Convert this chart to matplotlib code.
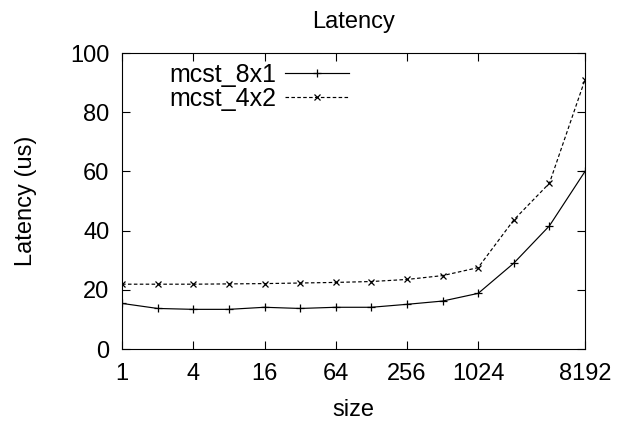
import numpy as np
import matplotlib
matplotlib.use('Agg')
import matplotlib.pyplot as plt

plt.rcParams['font.family'] = ['Liberation Sans', 'DejaVu Sans']

# message sizes (bytes) and measured latency (us)
sizes = [1, 2, 4, 8, 16, 32, 64, 128, 256, 512, 1024, 2048, 4096, 8192]
mcst_8x1 = [15.4, 13.7, 13.4, 13.4, 14.1, 13.7, 14.1, 14.1, 15.1, 16.2, 18.8, 29.0, 41.6, 60.0]
mcst_4x2 = [21.9, 21.9, 21.9, 22.0, 22.1, 22.3, 22.5, 22.8, 23.5, 24.8, 27.5, 43.6, 56.0, 91.0]

xticks = [1, 4, 16, 64, 256, 1024, 8192]
yticks = [0, 20, 40, 60, 80, 100]

fig = plt.figure(figsize=(6.26, 4.21), dpi=100)
ax = fig.add_axes([0.195, 0.171, 0.7395, 0.703])

ax.plot(sizes, mcst_8x1, color='black', lw=0.85, marker='+', ms=5.5, mew=0.9,
        label='mcst_8x1')
ax.plot(sizes, mcst_4x2, color='black', lw=0.85, ls=(0, (3, 2)), marker='x',
        ms=4.5, mew=0.9, label='mcst_4x2')

ax.set_xscale('log', base=2)
ax.set_xlim(1, 8192)
ax.set_ylim(0, 100)
ax.set_xticks(xticks)
ax.set_xticklabels([str(t) for t in xticks])
ax.set_yticks(yticks)
ax.minorticks_off()
ax.tick_params(direction='in', length=6, width=0.8, top=True, right=True,
               labelsize=17)
ax.tick_params(axis='x', pad=10)
ax.tick_params(axis='y', pad=9)

ax.set_title('Latency', fontsize=17, pad=18)
ax.set_xlabel('size', fontsize=17, labelpad=10)
ax.set_ylabel('Latency (us)', fontsize=17, labelpad=24)

ax.legend(loc='upper right', bbox_to_anchor=(0.49, 0.966), frameon=False,
          markerfirst=False, fontsize=18, handlelength=2.56, handletextpad=0.36,
          borderpad=0, borderaxespad=0, labelspacing=0.0)

fig.savefig('out.png', dpi=100)
